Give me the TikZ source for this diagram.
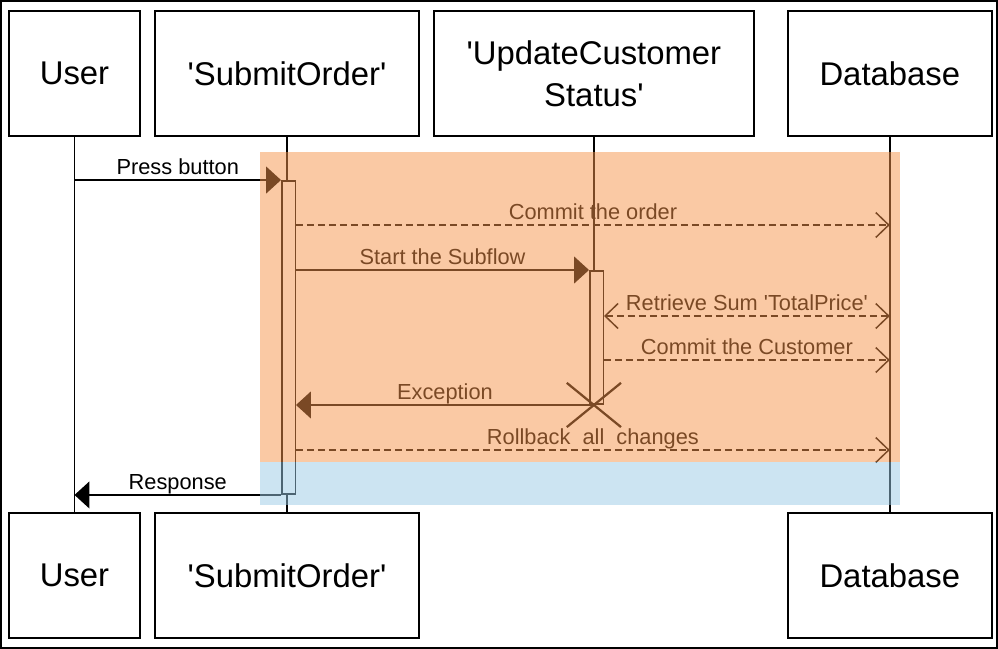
\documentclass[tikz,border=0pt]{standalone}
\usepackage{fontspec}
\setmainfont{Liberation Sans}[Ligatures=TeXOff]
\usetikzlibrary{positioning, arrows.meta, shapes.misc}
\definecolor{errband}{HTML}{F5934A}
\definecolor{endband}{HTML}{99C9E5}

\begin{document}
\begin{tikzpicture}
    [
        x=0.02cm, y=-0.02cm, node distance=7.5cm and 0.26cm,
        actor/.style={rectangle, draw=black, line width=0.04cm, fill=white, minimum height=2.5cm, align=center, font=\fontsize{18.7}{24}\selectfont},
        actbar/.style={rectangle, draw=black, line width=0.03cm, fill=white, inner sep=0pt, minimum width=0.27cm},
        lifeline/.style={line width=0.03cm},
        call/.style={line width=0.03cm, -{Triangle[length=0.3cm, width=0.54cm]}},
        reply/.style={line width=0.03cm, dash pattern=on 0.14cm off 0.08cm, -{Straight Barb[length=0.26cm, width=0.5cm]}},
        msg_label/.style={midway, above=0.1cm, inner sep=0pt, text depth=0pt, font=\fontsize{12.4}{14}\selectfont},
        kill/.style={cross out, draw=black, line width=0.045cm, inner sep=0pt, minimum width=1.04cm, minimum height=0.84cm},
    ]
        \useasboundingbox (0,0) rectangle (998,649);
        % participants, top and bottom
        \node[actor, minimum width=2.62cm] (user) at (74.5,73.5) {User};
        \node[actor, minimum width=5.28cm, right=of user] (submit) {'SubmitOrder'};
        \node[actor, minimum width=6.4cm, right=of submit] (update) {'UpdateCustomer\\Status'};
        \node[actor, minimum width=4.08cm, right=0.64cm of update] (db) {Database};
        \node[actor, minimum width=2.62cm, below=of user] (user_end) {User};
        \node[actor, minimum width=5.28cm, below=of submit] (submit_end) {'SubmitOrder'};
        \node[actor, minimum width=4.08cm, below=of db] (db_end) {Database};
        % lifelines
        \draw[lifeline] (user) -- (user_end);
        \draw[lifeline] (submit) -- (submit_end);
        \draw[lifeline] (db) -- (db_end);
        \node[actbar, minimum height=6.27cm] (sbar) at (288.5,337.5) {};
        \node[actbar, minimum height=2.67cm] (ubar) at (596.5,337.5) {};
        \draw[lifeline] (update.south) -- (update.south |- ubar.north);
        \coordinate (order) at (0,225);
        \coordinate (retrieve) at (0,316);
        \coordinate (customer) at (0,360);
        \coordinate (rollback) at (0,450);
        % messages
        \draw[call] (user |- sbar.north west) -- (sbar.north west) node[msg_label] {Press button};
        \draw[reply] (sbar.east |- order) -- (db |- order) node[msg_label] {Commit the order};
        \draw[call] (sbar.east |- ubar.north) -- (ubar.north west) node[msg_label] {Start the Subflow};
        \draw[reply, {Straight Barb[length=0.26cm, width=0.5cm]}-{Straight Barb[length=0.26cm, width=0.5cm]}] (ubar.east |- retrieve) -- (db |- retrieve) node[msg_label] {Retrieve Sum 'TotalPrice'};
        \draw[reply] (ubar.east |- customer) -- (db |- customer) node[msg_label] {Commit the Customer};
        \node[kill] (stop) at (update.south |- ubar.south) {};
        \draw[call] (stop.center) -- (sbar.east |- stop.center) node[msg_label] {Exception};
        \draw[reply] (sbar.east |- rollback) -- (db |- rollback) node[msg_label] {Rollback\ \ all\ \ changes};
        \draw[call] (sbar.south west) -- (user |- sbar.south west) node[msg_label] {Response};
        % bands
        \fill[errband, opacity=0.5] (260,152) rectangle (900,462);
        \fill[endband, opacity=0.5] (260,462) rectangle (900,505);
        \draw[line width=0.04cm] (1,1) rectangle (997,648);
    \end{tikzpicture}
\end{document}
